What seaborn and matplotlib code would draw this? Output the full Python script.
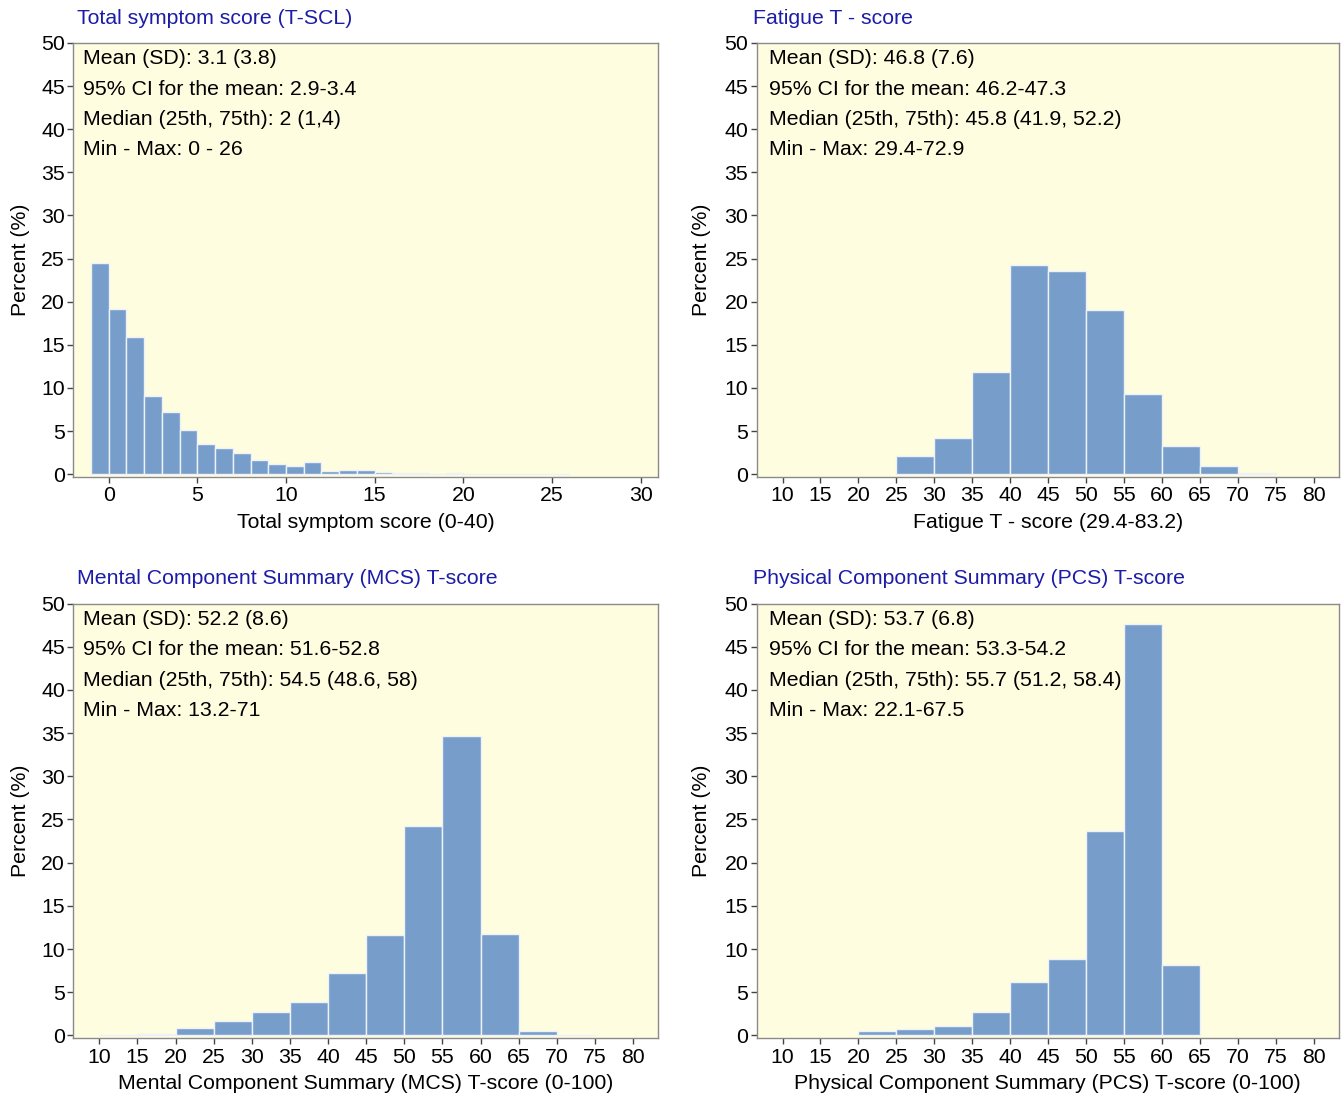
import matplotlib
matplotlib.use("Agg")
import matplotlib.pyplot as plt
import numpy as np
import seaborn as sns

sns.set_style("ticks")
plt.rcParams["font.family"] = ["Liberation Sans", "DejaVu Sans"]
plt.rcParams["text.color"] = "black"
plt.rcParams["axes.labelcolor"] = "black"

# percent per bin
tscl_edges = list(range(-1, 27))
tscl_pct = [24.5, 19.2, 15.9, 9.1, 7.2, 5.1, 3.5, 3.0, 2.5, 1.6, 1.2, 0.9, 1.4,
            0.35, 0.45, 0.45, 0.2, 0.1, 0.1, 0.05, 0.1, 0.0, 0.0, 0.0, 0.0, 0.0, 0.03]

fat_edges = list(range(25, 80, 5))
fat_pct = [2.1, 4.2, 11.9, 24.2, 23.6, 19.0, 9.3, 3.3, 0.9, 0.1]

mcs_edges = list(range(10, 80, 5))
mcs_pct = [0.03, 0.2, 0.9, 1.7, 2.7, 3.9, 7.2, 11.6, 24.3, 34.7, 11.7, 0.5, 0.03]

pcs_edges = list(range(20, 70, 5))
pcs_pct = [0.5, 0.7, 1.1, 2.7, 6.2, 8.9, 23.7, 47.6, 8.2]

titles = ["Total symptom score (T-SCL)", "Fatigue T - score",
          "Mental Component Summary (MCS) T-score", "Physical Component Summary (PCS) T-score"]
xlabels = ["Total symptom score (0-40)", "Fatigue T - score (29.4-83.2)",
           "Mental Component Summary (MCS) T-score (0-100)",
           "Physical Component Summary (PCS) T-score (0-100)"]
stats = [
    ["Mean (SD): 3.1 (3.8)", "95% CI for the mean: 2.9-3.4",
     "Median (25th, 75th): 2 (1,4)", "Min - Max: 0 - 26"],
    ["Mean (SD): 46.8 (7.6)", "95% CI for the mean: 46.2-47.3",
     "Median (25th, 75th): 45.8 (41.9, 52.2)", "Min - Max: 29.4-72.9"],
    ["Mean (SD): 52.2 (8.6)", "95% CI for the mean: 51.6-52.8",
     "Median (25th, 75th): 54.5 (48.6, 58)", "Min - Max: 13.2-71"],
    ["Mean (SD): 53.7 (6.8)", "95% CI for the mean: 53.3-54.2",
     "Median (25th, 75th): 55.7 (51.2, 58.4)", "Min - Max: 22.1-67.5"],
]
panels = [(tscl_edges, tscl_pct), (fat_edges, fat_pct), (mcs_edges, mcs_pct), (pcs_edges, pcs_pct)]

W, H = 1343, 1095
fig = plt.figure(figsize=(W / 100, H / 100), dpi=100)

# axes boxes in pixels: left, top, right, bottom
boxes = [(73.3, 43, 658.3, 476.7), (756.7, 43, 1339, 476.7),
         (73.3, 603.5, 658.3, 1038), (756.7, 603.5, 1339, 1038)]

bar_col = "#779ECB"
bg_col = "#FFFDE0"
title_col = "#1C1CA8"
fs = 15.3

for i, (edges, pct) in enumerate(panels):
    l, t, r, b = boxes[i]
    ax = fig.add_axes([l / W, 1 - b / H, (r - l) / W, (b - t) / H])
    ax.set_facecolor(bg_col)
    centers = [e + (edges[1] - edges[0]) / 2 for e in edges[:-1]]
    sns.histplot(x=centers, weights=pct, bins=edges, stat="count", ax=ax,
                 color=bar_col, alpha=1, edgecolor="#EEF2F7", linewidth=1.0)
    ax.set_ylim(-0.3, 50)
    ax.set_yticks(np.arange(0, 51, 5))
    if i == 0:
        ax.set_xlim(-2, 31)
        ax.set_xticks(np.arange(0, 31, 5))
    else:
        ax.set_xlim(6.6, 83.3)
        ax.set_xticks(np.arange(10, 81, 5))
    for s in ax.spines.values():
        s.set_color("#8A8A8A")
        s.set_linewidth(1.0)
    ax.tick_params(axis="both", length=4, width=1, color="#444444",
                   labelsize=fs, pad=2, labelcolor="black")
    ax.tick_params(axis="x", pad=3)
    ax.set_ylabel("Percent (%)", fontsize=fs)
    ax.set_xlabel(xlabels[i], fontsize=fs)
    left_col = i % 2 == 0
    ylab_x = 30 if left_col else 711
    ax.yaxis.set_label_coords((ylab_x - l) / (r - l), 0.5)
    ax.xaxis.set_label_coords(0.5, -(36 / (b - t)))
    title_x = 77 if left_col else 753
    text_x = 83 if left_col else 769
    ax.text((title_x - l) / (r - l), 1 + 25 / (b - t), titles[i], transform=ax.transAxes,
            color=title_col, fontsize=fs, va="center", ha="left")
    for k, line in enumerate(stats[i]):
        ax.text((text_x - l) / (r - l), 1 - (16 + 30.3 * k) / (b - t), line,
                transform=ax.transAxes, fontsize=fs, va="center", ha="left")

fig.savefig("out.png", dpi=100)
